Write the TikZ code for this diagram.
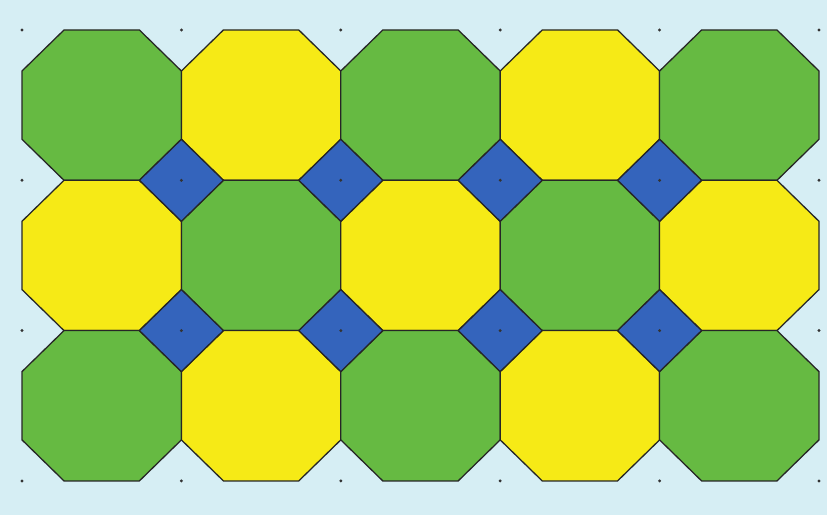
\documentclass[tikz,border=0pt]{standalone}
\usepackage[dvipsnames]{xcolor}
\usetikzlibrary{calc}
\definecolor{bgblue}{RGB}{214,238,244}
\definecolor{octgreen}{RGB}{102,186,66}
\definecolor{octyellow}{RGB}{246,234,22}
\definecolor{sqblue}{RGB}{52,100,188}
\tikzset{octa/.style={draw=black!85,line width=1.1pt,line join=miter},
  sq/.style={octa,fill=sqblue},
  gdot/.style={fill=black!80,inner sep=0pt,minimum size=2.8pt,circle}}
\newcommand{\cw}{159.4}
\newcommand{\ch}{150.3}
\newcommand{\cx}{42}
\newcommand{\cy}{41}
\begin{document}
\begin{tikzpicture}[x=0.03cm,y=-0.03cm]
\fill[bgblue] (0,0) rectangle (827,515);
\useasboundingbox (0,0) rectangle (827,515);
% octagons, green where i+j is even
\foreach \i in {0,...,4}{
  \foreach \j in {0,...,2}{
    \pgfmathsetmacro{\xa}{22+\i*\cw}
    \pgfmathsetmacro{\ya}{30+\j*\ch}
    \pgfmathtruncatemacro{\oddeven}{mod(\i+\j,2)}
    \ifnum\oddeven=0 \def\octcol{octgreen}\else \def\octcol{octyellow}\fi
    \draw[octa,fill=\octcol] (\xa+\cx,\ya) -- (\xa+\cw-\cx,\ya) -- (\xa+\cw,\ya+\cy)
      -- (\xa+\cw,\ya+\ch-\cy) -- (\xa+\cw-\cx,\ya+\ch) -- (\xa+\cx,\ya+\ch)
      -- (\xa,\ya+\ch-\cy) -- (\xa,\ya+\cy) -- cycle;
  }
}
% blue squares at the inner corners
\foreach \i in {1,...,4}{
  \foreach \j in {1,2}{
    \pgfmathsetmacro{\xc}{22+\i*\cw}
    \pgfmathsetmacro{\yc}{30+\j*\ch}
    \draw[sq] (\xc-\cx,\yc) -- (\xc,\yc-\cy) -- (\xc+\cx,\yc) -- (\xc,\yc+\cy) -- cycle;
  }
}
% grid dots
\foreach \i in {0,...,5}{
  \foreach \j in {0,...,3}{
    \node[gdot] (d\i\j) at (22+\i*\cw,30+\j*\ch) {};
  }
}
\end{tikzpicture}
\end{document}
